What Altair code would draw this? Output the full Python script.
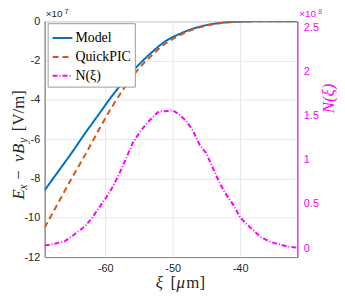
import altair as alt
import pandas as pd

# ---- data (E-field in units of 1e7 V/m, N in units of 1e8) ----
xi_e = [-69, -67, -65, -63, -61, -59, -57, -55, -53, -51, -49, -47, -45, -43, -41, -39, -37, -35, -33, -31.5]
model = [-8.6, -7.65, -6.7, -5.7, -4.75, -3.8, -2.95, -2.2, -1.55, -1.0, -0.65, -0.38, -0.2, -0.09, -0.03, -0.01, 0, 0, 0, 0]
quickpic = [-10.5, -9.25, -8.0, -6.8, -5.55, -4.35, -3.3, -2.4, -1.7, -1.12, -0.72, -0.42, -0.22, -0.1, -0.035, -0.01, 0, 0, 0, 0]

xi_n = [-69, -67.5, -66, -64.5, -63, -62, -61, -60, -59, -58, -57, -56, -55, -54, -53, -52, -51, -50,
        -49, -48, -47, -46, -45, -44, -43, -42, -41, -40, -39, -38, -37, -36, -35, -34, -33, -32, -31.5]
n_vals = [0.03, 0.05, 0.08, 0.16, 0.25, 0.34, 0.45, 0.56, 0.68, 0.83, 1.0, 1.18, 1.3, 1.4, 1.48, 1.55, 1.55, 1.56,
          1.51, 1.44, 1.33, 1.17, 1.07, 0.9, 0.73, 0.6, 0.49, 0.35, 0.27, 0.2, 0.13, 0.09, 0.06, 0.04, 0.02, 0.01, 0.006]

series_names = ["Model", "QuickPIC", "N(ξ)"]
series_colors = ["#0072BD", "#D95319", "#FF00FF"]
series_dash = [[1, 0], [6, 4], [5, 2, 1, 2]]

x_ticks = [-60, -50, -40]
left_ticks = [-12, -10, -8, -6, -4, -2, 0]
right_ticks = [0, 0.5, 1, 1.5, 2, 2.5]

e_df = pd.DataFrame({
    "xi": xi_e * 2,
    "val": model + quickpic,
    "series": ["Model"] * len(xi_e) + ["QuickPIC"] * len(xi_e),
})
n_df = pd.DataFrame({"xi": xi_n, "val": n_vals, "series": ["N(ξ)"] * len(xi_n)})

W, H = 255, 238
xscale = alt.Scale(domain=[-69, -31.5], nice=False, zero=False)
color = alt.Color("series:N", scale=alt.Scale(domain=series_names, range=series_colors),
                  legend=alt.Legend(title=None, orient="none", legendX=3, legendY=2,
                                    symbolType="stroke", symbolSize=400, symbolStrokeWidth=2,
                                    labelFont="Liberation Serif", labelFontSize=14, labelColor="black",
                                    fillColor="white", strokeColor="#9a9a9a", padding=4,
                                    rowPadding=1, labelOffset=2, cornerRadius=0))
dash = alt.StrokeDash("series:N", scale=alt.Scale(domain=series_names, range=series_dash), legend=None)

tick_font = "Liberation Sans"

left = alt.Chart(e_df).mark_line(strokeWidth=2, interpolate="monotone", clip=True).encode(
    x=alt.X("xi:Q", scale=xscale,
            axis=alt.Axis(values=x_ticks, title=None, grid=True, gridColor="#e6e6e6", ticks=False,
                          domainColor="#888", labelColor="#262626", labelFont=tick_font, labelFontSize=11,
                          labelPadding=6, labelExpr="'' + datum.value")),
    y=alt.Y("val:Q", scale=alt.Scale(domain=[-12, 0], nice=False),
            axis=alt.Axis(values=left_ticks, title=None, grid=True, gridColor="#e6e6e6", ticks=False,
                          domainColor="#888", labelColor="#262626", labelFont=tick_font, labelFontSize=11,
                          labelPadding=5, labelExpr="'' + datum.value")),
    color=color,
    strokeDash=dash,
)

right = alt.Chart(n_df).mark_line(strokeWidth=2, clip=True).encode(
    x=alt.X("xi:Q", scale=xscale),
    y=alt.Y("val:Q", scale=alt.Scale(domain=[-0.1, 2.5667], nice=False, zero=False),
            axis=alt.Axis(orient="right", values=right_ticks, title=None, grid=False, ticks=False,
                          domainColor="#FF00FF", labelColor="#FF00FF", labelFont=tick_font,
                          labelFontSize=11, labelPadding=6, labelExpr="'' + datum.value")),
    color=color,
    strokeDash=dash,
)

one = alt.Data(values=[{}])


def txt(s, x, y, size=11, color="#262626", font=tick_font, style="normal", angle=0, align="left",
        baseline="alphabetic"):
    return alt.Chart(one).mark_text(text=s, fontSize=size, color=color, font=font, fontStyle=style,
                                    angle=angle, align=align, baseline=baseline).encode(
        x=alt.value(x), y=alt.value(y))


serif = "Liberation Serif"
dy = -23
ann = [
    # x10^7 (left) and x10^8 (right)
    txt("×10", 1, -4, size=10),
    txt("7", 20, -7, size=7),
    txt("×10", 257, -4, size=10, color="#FF00FF"),
    txt("8", 276, -7, size=7, color="#FF00FF"),
    # x-axis title
    txt("ξ", 112, 269, size=17, font=serif, style="italic"),
    txt("[", 127, 269, size=17, font=serif),
    txt("μ", 133, 269, size=17, font=serif, style="italic"),
    txt("m]", 143, 269, size=17, font=serif),
    # right-axis title
    txt("N(ξ)", 287, 78, size=17, color="#FF00FF", font=serif, style="italic", angle=270,
        align="center", baseline="middle"),
    # left-axis title (reads bottom-to-top)
    txt("E", -26, 203 + dy, size=17, font=serif, style="italic", angle=270, baseline="middle"),
    txt("x", -22, 193 + dy, size=12, font=serif, style="italic", angle=270, baseline="middle"),
    txt("−", -26, 183 + dy, size=17, font=serif, angle=270, baseline="middle"),
    txt("v", -26, 165 + dy, size=17, font=serif, style="italic", angle=270, baseline="middle"),
    txt("B", -26, 157 + dy, size=17, font=serif, style="italic", angle=270, baseline="middle"),
    txt("y", -22, 146 + dy, size=12, font=serif, style="italic", angle=270, baseline="middle"),
    txt("[V/m]", -26, 134 + dy, size=17, font=serif, angle=270, baseline="middle"),
]

chart = alt.layer(left, right, *ann).resolve_scale(y="independent").properties(
    width=W, height=H,
    autosize=alt.AutoSizeParams(type="none"),
    padding={"left": 37, "top": 12, "right": 40, "bottom": 45},
).configure_view(stroke="#9a9a9a", strokeWidth=1)

chart.save("out.html", embed_options={"renderer": "svg", "actions": False})
